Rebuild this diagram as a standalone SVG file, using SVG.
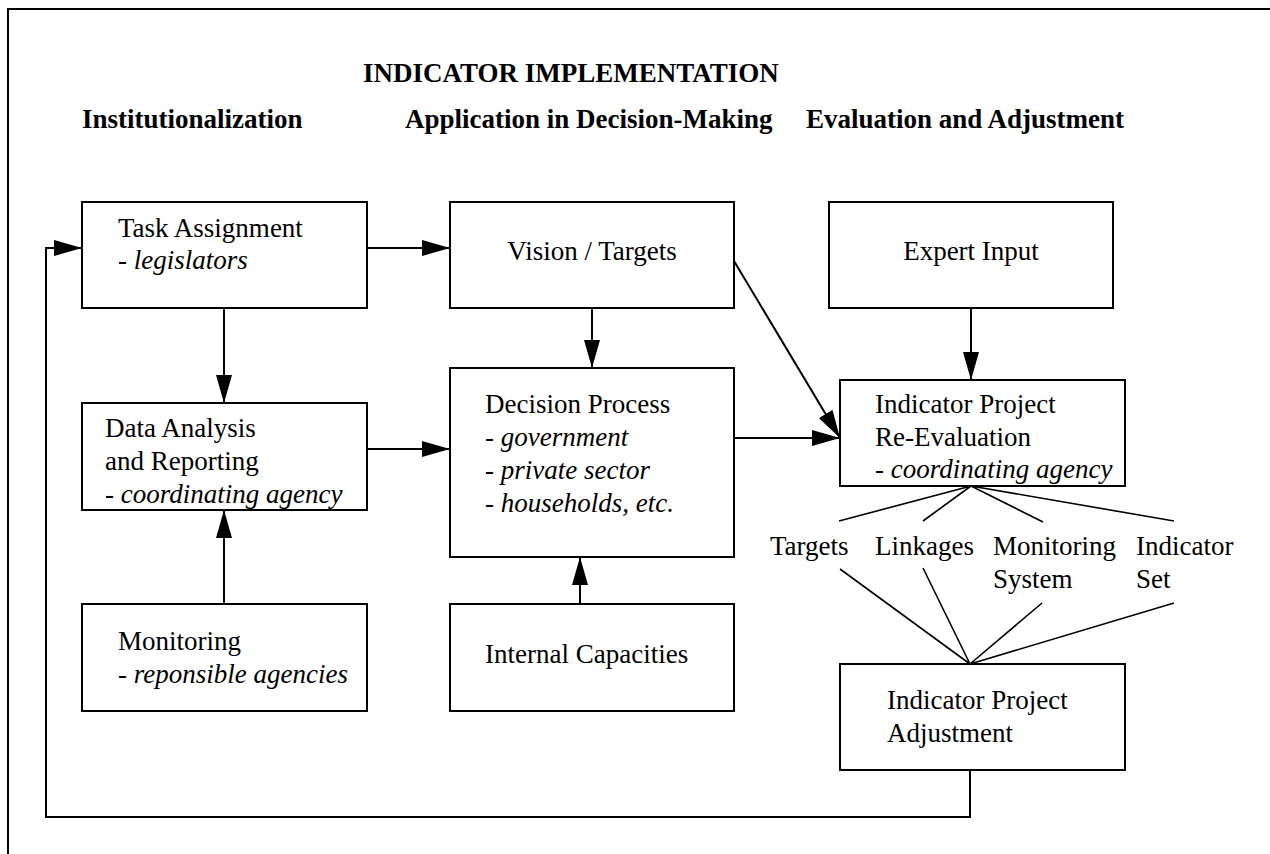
<svg xmlns="http://www.w3.org/2000/svg" width="1270" height="854" viewBox="0 0 1270 854">
<style>
  text { font-family: "Liberation Serif", "Times New Roman", serif; font-size: 27px; fill: #000; }
  .h { font-weight: bold; }
  .i { font-style: italic; }
  .box { fill: #fff; stroke: #000; stroke-width: 2; }
  .ln { fill: none; stroke: #000; stroke-width: 2; }
  .fan { fill: none; stroke: #000; stroke-width: 1.6; }
</style>
<defs>
  <marker id="ah" markerWidth="28" markerHeight="16" refX="28" refY="8" orient="auto" markerUnits="userSpaceOnUse">
    <path d="M0,0 L28,8 L0,16 Z" fill="#000"/>
  </marker>
</defs>
<rect width="1270" height="854" fill="#fff"/>
<rect x="8" y="9" width="1300" height="900" fill="none" stroke="#000" stroke-width="2"/>

<g id="headings">
  <text class="h" x="363" y="82">INDICATOR IMPLEMENTATION</text>
  <text class="h" x="82" y="128">Institutionalization</text>
  <text class="h" x="405" y="128">Application in Decision-Making</text>
  <text class="h" x="806" y="128">Evaluation and Adjustment</text>
</g>

<g id="connectors">
  <line class="ln" x1="367" y1="248" x2="450" y2="248" marker-end="url(#ah)"/>
  <line class="ln" x1="224" y1="308" x2="224" y2="403" marker-end="url(#ah)"/>
  <line class="ln" x1="224" y1="604" x2="224" y2="510" marker-end="url(#ah)"/>
  <line class="ln" x1="367" y1="449" x2="450" y2="449" marker-end="url(#ah)"/>
  <line class="ln" x1="592" y1="308" x2="592" y2="368" marker-end="url(#ah)"/>
  <line class="ln" x1="580" y1="604" x2="580" y2="557" marker-end="url(#ah)"/>
  <line class="ln" x1="971" y1="308" x2="971" y2="380" marker-end="url(#ah)"/>
  <line class="ln" x1="734" y1="261" x2="840" y2="438" marker-end="url(#ah)"/>
  <line class="ln" x1="734" y1="438" x2="840" y2="438" marker-end="url(#ah)"/>
  <path class="ln" d="M970,770 L970,817 L46,817 L46,248 L82,248" marker-end="url(#ah)"/>
  <path class="fan" d="M971,486 L839,521 M971,486 L923,521 M971,486 L1043,522 M971,486 L1174,521"/>
  <path class="fan" d="M970,664 L840,569 M970,664 L923,568 M970,664 L1042,603 M970,664 L1174,603"/>
</g>

<g id="task">
  <rect class="box" x="82" y="202" width="285" height="106"/>
  <text x="118" y="237">Task Assignment</text>
  <text x="118" y="269">- <tspan class="i">legislators</tspan></text>
</g>
<g id="vision">
  <rect class="box" x="450" y="202" width="284" height="106"/>
  <text x="592" y="260" text-anchor="middle">Vision / Targets</text>
</g>
<g id="expert">
  <rect class="box" x="829" y="202" width="284" height="106"/>
  <text x="971" y="260" text-anchor="middle">Expert Input</text>
</g>
<g id="data">
  <rect class="box" x="82" y="403" width="285" height="107"/>
  <text x="105" y="437">Data Analysis</text>
  <text x="105" y="470">and Reporting</text>
  <text x="105" y="503">- <tspan class="i">coordinating agency</tspan></text>
</g>
<g id="decision">
  <rect class="box" x="450" y="368" width="284" height="189"/>
  <text x="485" y="413">Decision Process</text>
  <text x="485" y="446">- <tspan class="i">government</tspan></text>
  <text x="485" y="479">- <tspan class="i">private sector</tspan></text>
  <text x="485" y="512">- <tspan class="i">households, etc.</tspan></text>
</g>
<g id="reevaluation">
  <rect class="box" x="840" y="380" width="285" height="106"/>
  <text x="875" y="413">Indicator Project</text>
  <text x="875" y="446">Re-Evaluation</text>
  <text x="875" y="478">- <tspan class="i">coordinating agency</tspan></text>
</g>
<g id="monitoring">
  <rect class="box" x="82" y="604" width="285" height="107"/>
  <text x="118" y="650">Monitoring</text>
  <text x="118" y="683">- <tspan class="i">reponsible agencies</tspan></text>
</g>
<g id="capacities">
  <rect class="box" x="450" y="604" width="284" height="107"/>
  <text x="485" y="663">Internal Capacities</text>
</g>
<g id="adjustment">
  <rect class="box" x="840" y="664" width="285" height="106"/>
  <text x="887" y="709">Indicator Project</text>
  <text x="887" y="742">Adjustment</text>
</g>
<g id="labels">
  <text x="770" y="555">Targets</text>
  <text x="875" y="555">Linkages</text>
  <text x="993" y="555">Monitoring</text>
  <text x="993" y="588">System</text>
  <text x="1136" y="555">Indicator</text>
  <text x="1136" y="588">Set</text>
</g>
</svg>
